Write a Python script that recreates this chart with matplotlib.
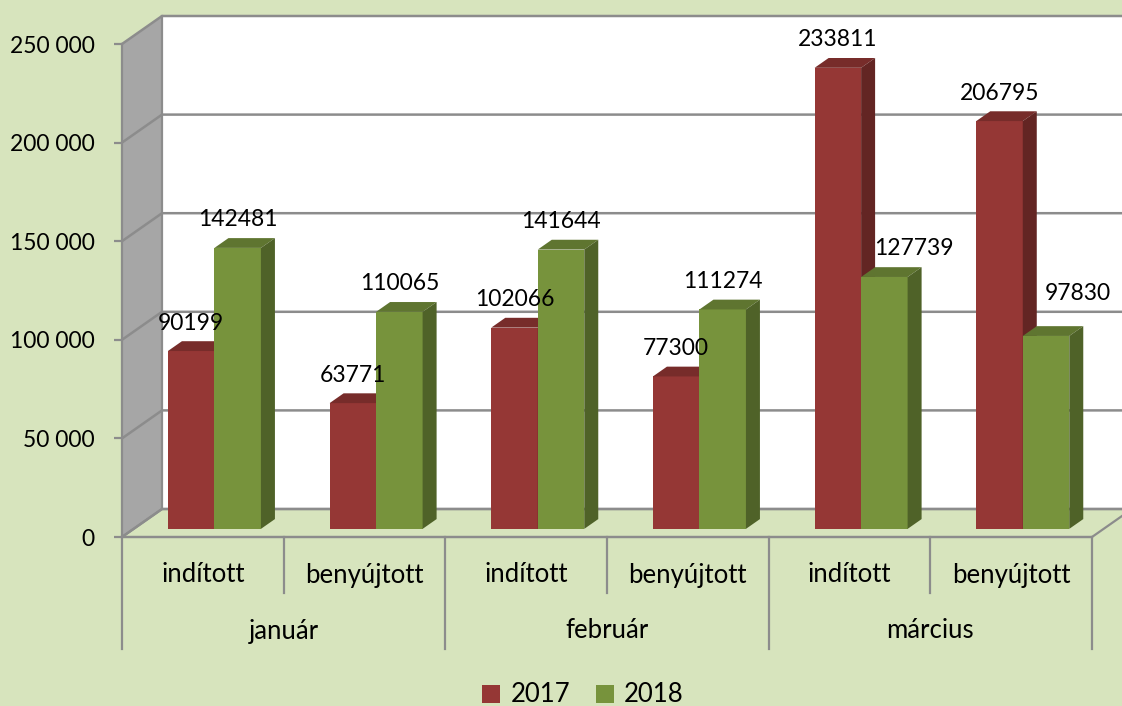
import matplotlib.pyplot as plt
from matplotlib.patches import Polygon

plt.rcParams['font.family'] = ['Lato', 'DejaVu Sans']

# data
months = ['január', 'február', 'március']
kinds = ['indított', 'benyújtott']
vals_2017 = [90199, 63771, 102066, 77300, 233811, 206795]
vals_2018 = [142481, 110065, 141644, 111274, 127739, 97830]
series_names = ['2017', '2018']
yticks = [0, 50000, 100000, 150000, 200000, 250000]

# label nudges (px) for the two moved labels of 2018
nudge_2018 = [(0, 0), (0, 0), (0, 0), (0, 0), (30, 0), (32, 14)]

W, H = 1122, 706
BG = '#d7e4bd'
GRID = '#8c8c8c'
RED = ('#953735', '#772c2a', '#632523')
GREEN = ('#77933c', '#5f7530', '#4f6228')

# front plane in pixels
AX_L, AX_R, AX_T, AX_B = 122, 1092, 44, 537
NCAT = len(months) * len(kinds)
YMAX = yticks[-1]
PXX = NCAT / (AX_R - AX_L)
PXY = YMAX / (AX_B - AX_T)
DX, DY = 40 * PXX, 28 * PXY        # full depth offset
Z0, Z1 = 0.29, 0.64                # bar depth range
BW = 46.5 * PXX
FS = 16.5
FS_CAT = 18.5


def below(p):
    # pixel row below the front axis -> data y
    return -(p - AX_B) * PXY


fig = plt.figure(figsize=(W / 100, H / 100), dpi=100, facecolor=BG)
ax = fig.add_axes([AX_L / W, 1 - AX_B / H, (AX_R - AX_L) / W, (AX_B - AX_T) / H])
ax.set_xlim(0, NCAT)
ax.set_ylim(0, YMAX)
ax.patch.set_visible(False)

# walls
ax.add_patch(Polygon([(DX, DY), (NCAT + DX, DY), (NCAT + DX, YMAX + DY), (DX, YMAX + DY)],
                     closed=True, facecolor='white', edgecolor='none', clip_on=False, zorder=0))
ax.add_patch(Polygon([(0, 0), (DX, DY), (DX, YMAX + DY), (0, YMAX)],
                     closed=True, facecolor='#a6a6a6', edgecolor='none', clip_on=False, zorder=0))
ax.add_patch(Polygon([(0, 0), (NCAT, 0), (NCAT + DX, DY), (DX, DY)],
                     closed=True, facecolor=BG, edgecolor=GRID, lw=1.6, clip_on=False, zorder=0.5))
for v in yticks:
    ax.plot([0, DX, NCAT + DX], [v, v + DY, v + DY], color=GRID, lw=1.8, clip_on=False, zorder=0.6)
ax.plot([DX, DX], [DY, YMAX + DY], color=GRID, lw=1.6, clip_on=False, zorder=0.6)

# bars
handles = []
for s, (vals, cols) in enumerate([(vals_2017, RED), (vals_2018, GREEN)]):
    xs = [i + 0.5 - BW + s * BW + Z0 * DX for i in range(NCAT)]
    bars = ax.bar(xs, vals, width=BW, bottom=Z0 * DY, align='edge', color=cols[0],
                  lw=0, zorder=3 + s, clip_on=False)
    handles.append(bars)
    d = Z1 - Z0
    for i, r in enumerate(bars):
        x0, x1 = r.get_x(), r.get_x() + r.get_width()
        b, t = r.get_y(), r.get_y() + r.get_height()
        ax.add_patch(Polygon([(x0, t), (x1, t), (x1 + d * DX, t + d * DY), (x0 + d * DX, t + d * DY)],
                             closed=True, facecolor=cols[1], lw=0, zorder=3 + s, clip_on=False))
        ax.add_patch(Polygon([(x1, b), (x1, t), (x1 + d * DX, t + d * DY), (x1 + d * DX, b + d * DY)],
                             closed=True, facecolor=cols[2], lw=0, zorder=3 + s, clip_on=False))
        nx, ny = nudge_2018[i] if s == 1 else (0, 0)
        ax.annotate(str(vals[i]), xy=((x0 + x1) / 2, t), xytext=(nx * 0.72, (28 + ny) * 0.72),
                    textcoords='offset points', ha='center', va='center', fontsize=FS,
                    zorder=6, annotation_clip=False)

# axes styling
ax.set_yticks(yticks)
ax.set_yticklabels([f'{v:,}'.replace(',', ' ') for v in yticks])
ax.tick_params(axis='y', length=8 * 0.72, width=1.6, color=GRID, pad=19 * 0.72, labelsize=FS)
ax.set_xticks([])
for side in ['top', 'right', 'bottom']:
    ax.spines[side].set_visible(False)
ax.spines['left'].set_color(GRID)
ax.spines['left'].set_linewidth(1.6)
ax.spines['left'].set_zorder(1)

# category axis
ax.plot([0, NCAT], [0, 0], color=GRID, lw=1.6, clip_on=False, zorder=1)
for b in range(NCAT + 1):
    end = 649 if b % len(kinds) == 0 else 593
    ax.plot([b, b], [0, below(end)], color=GRID, lw=1.6, clip_on=False, zorder=1)
for i in range(NCAT):
    ax.text(i + 0.5, below(575), kinds[i % len(kinds)], ha='center', va='center', fontsize=FS_CAT)
for j, m in enumerate(months):
    ax.text(j * len(kinds) + len(kinds) / 2, below(631), m, ha='center', va='center', fontsize=FS_CAT)

fig.legend(handles, series_names, loc='center', bbox_to_anchor=(583 / W, 1 - 695 / H), ncol=2,
           frameon=False, fontsize=18.5, handlelength=0.7, handleheight=0.7,
           handletextpad=0.4, columnspacing=1.0)

fig.savefig('out.png', dpi=100, facecolor=BG)
